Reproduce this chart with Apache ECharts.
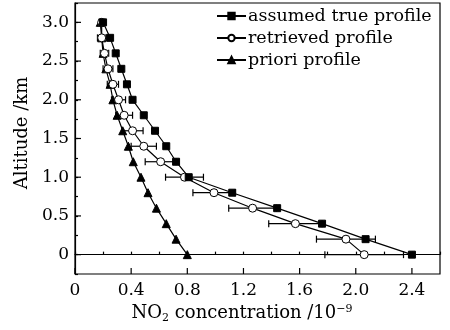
<!DOCTYPE html>
<html><head><meta charset="utf-8">
<script src="https://cdn.jsdelivr.net/npm/echarts@6/dist/echarts.min.js"></script>
<style>html,body{margin:0;padding:0;background:#fff}#c{width:450px;height:330px}</style>
</head><body><div id="c"></div>
<script>
const altitude = [0,0.2,0.4,0.6,0.8,1.0,1.2,1.4,1.6,1.8,2.0,2.2,2.4,2.6,2.8,3.0];
const trueProfile = [2.40,2.07,1.76,1.44,1.12,0.81,0.72,0.65,0.57,0.49,0.41,0.37,0.33,0.29,0.25,0.20];
const retrieved = [2.06,1.93,1.57,1.265,0.99,0.78,0.61,0.49,0.41,0.35,0.31,0.27,0.235,0.21,0.19,0.19];
const retrievedErr = [0.28,0.21,0.19,0.17,0.15,0.135,0.11,0.09,0.075,0.06,0.05,0.04,0.035,0.03,0.03,0.02];
const priori = [0.80,0.72,0.65,0.58,0.52,0.47,0.415,0.38,0.34,0.30,0.27,0.25,0.22,0.20,0.19,0.18];
const seriesNames = ['assumed true profile','retrieved profile','priori profile'];
const xMajorTicks = [0,0.4,0.8,1.2,1.6,2.0,2.4];
const yMajorTicks = [0,0.5,1.0,1.5,2.0,2.5,3.0];

const FONT = 'DejaVu Serif';
const chart = echarts.init(document.getElementById('c'), null, {renderer:'canvas'});
const pair = (xs) => xs.map((v,i)=>[v, altitude[i]]);
const errData = retrieved.map((v,i)=>[v-retrievedErr[i], v+retrievedErr[i], altitude[i]]);
const tickData = xMajorTicks.map(v=>['x',v]).concat(yMajorTicks.map(v=>['y',v]));

const lineBase = {type:'line', lineStyle:{color:'#000', width:1.2}, itemStyle:{color:'#000', borderColor:'#000', borderWidth:1}, z:3};

chart.setOption({
  animation:false,
  grid:{left:75, right:10, top:3, bottom:56, show:true, borderColor:'#000', borderWidth:1.2, backgroundColor:'transparent'},
  xAxis:{type:'value', min:0, max:2.6, interval:0.2,
    axisLine:{lineStyle:{color:'#000', width:1.2}},
    axisTick:{inside:true, length:3, lineStyle:{color:'#000', width:1.2}},
    splitLine:{show:false},
    axisLabel:{color:'#000', fontFamily:FONT, fontSize:17, margin:8,
      formatter:(v)=>{ const r=Math.round(v*10)/10; if (Math.abs(Math.round(r/0.4)*0.4-r)>1e-6 || r>2.45) return ''; return r===0?'0':r.toFixed(1);} }
  },
  yAxis:{type:'value', min:-0.25, max:3.25, interval:0.25,
    axisLine:{lineStyle:{color:'#000', width:1.2}},
    axisTick:{inside:true, length:3, lineStyle:{color:'#000', width:1.2}},
    splitLine:{show:false},
    axisLabel:{color:'#000', fontFamily:FONT, fontSize:17, margin:6,
      formatter:(v)=>{ const r=Math.round(v*100)/100; if (r<0||r>3||Math.abs(Math.round(r*2)/2-r)>1e-6) return ''; return r===0?'0':r.toFixed(1);} }
  },
  legend:{orient:'vertical', left:211, top:2, itemWidth:29, itemHeight:8, itemGap:4,
    data:seriesNames,
    textStyle:{color:'#000', fontFamily:FONT, fontSize:17.5, padding:[0,0,0,-3]}},
  graphic:[
    {type:'text', x:22, y:133, rotation:Math.PI/2, style:{text:'Altitude /km', fill:'#000', align:'center', verticalAlign:'middle', font:'18px "DejaVu Serif"'}},
    {type:'text', x:242, y:313, style:{text:'NO{sub|2} concentration /10{sup|−9}', fill:'#000', align:'center', verticalAlign:'middle', font:'18px "DejaVu Serif"',
      rich:{sub:{fontSize:11, fontFamily:FONT, padding:[10,0,0,0]}, sup:{fontSize:11, fontFamily:FONT, padding:[0,0,8,0]}}}}
  ],
  series:[
    {type:'custom', name:'ticks', silent:true, z:5, clip:false, data:tickData,
      renderItem:(params, api)=>{
        const d = tickData[params.dataIndex];
        if (d[0]==='x'){ const p = api.coord([d[1], -0.25]); return {type:'line', shape:{x1:p[0], y1:p[1], x2:p[0], y2:p[1]-6}, style:{stroke:'#000', lineWidth:1.2}}; }
        const p = api.coord([0, d[1]]); return {type:'line', shape:{x1:p[0], y1:p[1], x2:p[0]+6, y2:p[1]}, style:{stroke:'#000', lineWidth:1.2}};
      }},
    {type:'custom', name:'err', silent:true, z:2, data:errData,
      renderItem:(params, api)=>{
        const a = api.coord([api.value(0), api.value(2)]);
        const b = api.coord([api.value(1), api.value(2)]);
        const h = 3.5;
        return {type:'group', children:[
          {type:'line', shape:{x1:a[0], y1:a[1], x2:b[0], y2:b[1]}, style:{stroke:'#000', lineWidth:1.2}},
          {type:'line', shape:{x1:a[0], y1:a[1]-h, x2:a[0], y2:a[1]+h}, style:{stroke:'#000', lineWidth:1.2}},
          {type:'line', shape:{x1:b[0], y1:b[1]-h, x2:b[0], y2:b[1]+h}, style:{stroke:'#000', lineWidth:1.2}}
        ]};
      }},
    Object.assign({}, lineBase, {name:seriesNames[2], data:pair(priori), symbol:'triangle', symbolSize:8}),
    Object.assign({}, lineBase, {name:seriesNames[1], data:pair(retrieved), symbol:'circle', symbolSize:8, itemStyle:{color:'#fff', borderColor:'#000', borderWidth:1}}),
    Object.assign({}, lineBase, {name:seriesNames[0], data:pair(trueProfile), symbol:'rect', symbolSize:7})
  ]
});
</script></body></html>
